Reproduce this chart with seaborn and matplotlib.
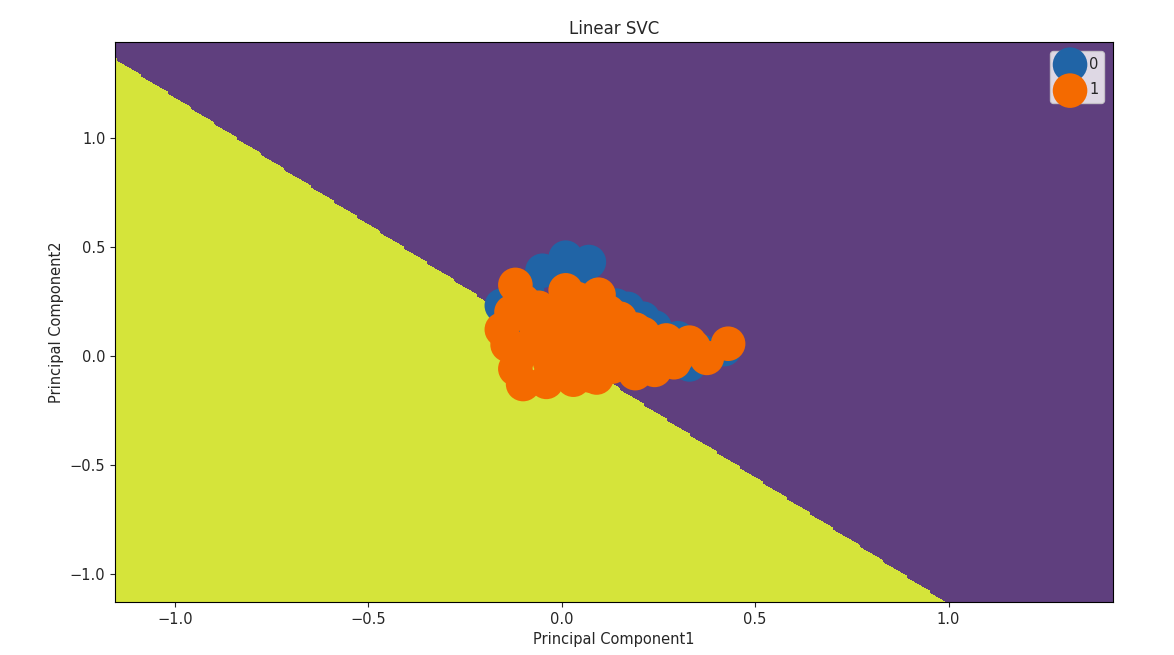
import numpy as np
import pandas as pd
import matplotlib
matplotlib.use('Agg')
import matplotlib.pyplot as plt
import seaborn as sns

# decision function of the fitted linear SVC: w0*pc1 + w1*pc2 + b < 0 -> class 1
svc_coef = [1.162, 1.0]
svc_intercept = -0.019

# PCA points, class 0
pc1_class0 = [0.01, 0.07, -0.05, 0.17, 0.24, 0.30, 0.33, 0.42, -0.155, -0.09, 0.20,
              0.05, -0.02, 0.10, 0.28, 0.36, 0.0, 0.15, -0.10, 0.04, 0.14, 0.21]
pc2_class0 = [0.45, 0.43, 0.39, 0.215, 0.13, 0.08, -0.04, 0.03, 0.23, 0.30, 0.10,
              0.20, 0.10, 0.05, 0.0, 0.02, -0.05, -0.02, 0.10, 0.36, 0.23, 0.17]

# PCA points, class 1
pc1_class1 = [-0.12, 0.01, 0.095, -0.155, -0.12, -0.10, -0.04, 0.03, 0.09, 0.43, 0.34, 0.26,
              0.19, 0.375, 0.24, 0.29, -0.06, 0.04, 0.12, 0.15, -0.08, 0.0, 0.06, 0.20,
              -0.13, -0.03, 0.08, 0.13, 0.22, 0.30, 0.17, -0.05, 0.02, 0.10, -0.10, 0.05,
              -0.14, -0.11, -0.07, 0.0, 0.07, 0.14, 0.19, -0.02, 0.11, 0.25,
              0.15, 0.05, -0.05, 0.10, 0.21, 0.27, 0.33, 0.16, 0.06, -0.02, 0.12, 0.31,
              0.22, -0.12, 0.04]
pc2_class1 = [0.325, 0.30, 0.28, 0.12, -0.06, -0.13, -0.12, -0.11, -0.10, 0.055, 0.04, 0.045,
              0.12, -0.01, -0.065, -0.03, 0.22, 0.20, 0.15, 0.06, 0.05, 0.12, 0.05, 0.0,
              0.20, -0.03, -0.06, -0.05, -0.04, 0.0, 0.02, 0.08, 0.25, 0.22, 0.25, -0.02,
              0.05, 0.0, 0.15, -0.08, -0.09, 0.08, -0.08, 0.05, -0.02, 0.03,
              0.17, 0.15, 0.17, 0.12, 0.10, 0.07, 0.06, 0.0, 0.0, 0.10, 0.20, 0.03,
              0.03, 0.20, 0.26]

class_colors = ['#2064a6', '#f46a00']
region_colors = ['#5f3f7e', '#d5e43a']

# mesh covering data range +- 1
step = 0.01
all_x = pc1_class0 + pc1_class1
all_y = pc2_class0 + pc2_class1
xx, yy = np.meshgrid(np.arange(min(all_x) - 1, max(all_x) + 1, step),
                     np.arange(min(all_y) - 1, max(all_y) + 1, step))
zz = (svc_coef[0] * xx + svc_coef[1] * yy + svc_intercept < 0).astype(int)

df0 = pd.DataFrame({'pc1': pc1_class0, 'pc2': pc2_class0})
df1 = pd.DataFrame({'pc1': pc1_class1, 'pc2': pc2_class1})

sns.set_style('ticks')
plt.rcParams['font.family'] = ['DejaVu Sans']

fig, ax = plt.subplots(figsize=(11.74, 6.55), dpi=100)
fig.subplots_adjust(left=0.098, right=0.948, top=0.936, bottom=0.081)

ax.contourf(xx, yy, zz, levels=[-0.5, 0.5, 1.5], colors=region_colors)
sns.scatterplot(data=df0, x='pc1', y='pc2', color=class_colors[0], s=620,
                edgecolor='none', label='0', ax=ax)
sns.scatterplot(data=df1, x='pc1', y='pc2', color=class_colors[1], s=620,
                edgecolor='none', label='1', ax=ax)

ax.set_xlim(xx.min(), xx.max())
ax.set_ylim(yy.min(), yy.max())
ax.set_xticks([-1.0, -0.5, 0.0, 0.5, 1.0])
ax.set_yticks([-1.0, -0.5, 0.0, 0.5, 1.0])
ax.tick_params(labelsize=10.5)
ax.set_title('Linear SVC', fontsize=12)
ax.set_xlabel('Principal Component1', fontsize=10.5)
ax.set_ylabel('Principal Component2', fontsize=10.5)
ax.legend(loc='upper right', fontsize=10.5, handletextpad=0.3, borderpad=0.4,
          labelspacing=0.75, handlelength=2.0, borderaxespad=0.6)
for spine in ax.spines.values():
    spine.set_color('black')

plt.savefig('out.png', dpi=100)
